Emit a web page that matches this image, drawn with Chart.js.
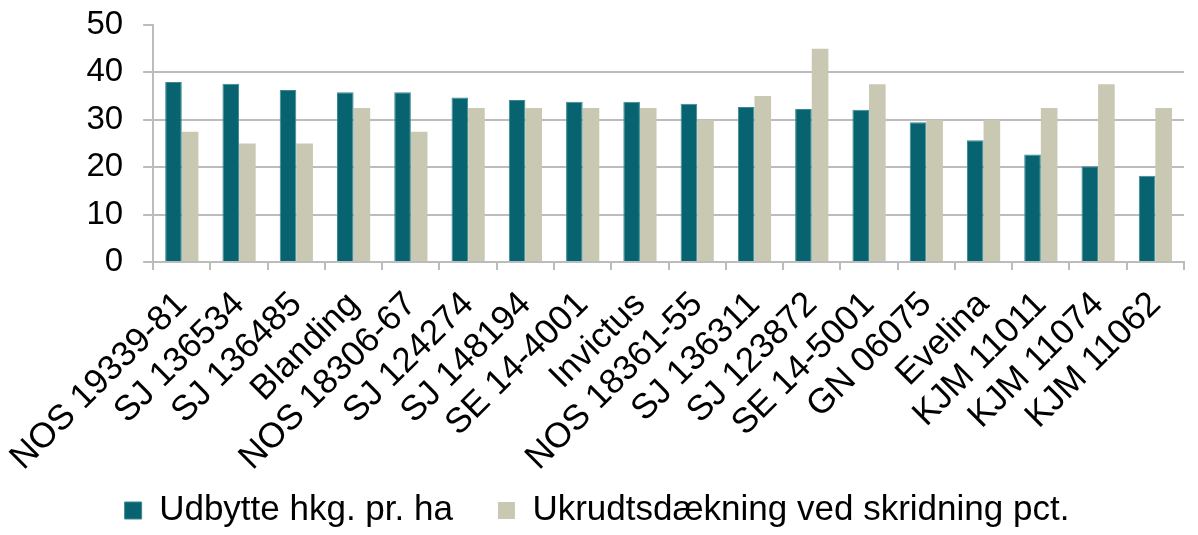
<!DOCTYPE html>
<html>
<head>
<meta charset="utf-8">
<script src="https://cdn.jsdelivr.net/npm/chart.js@4.4.1/dist/chart.umd.min.js"></script>
<style>
  html, body { margin: 0; padding: 0; background: #fff; }
  #wrap { width: 1198px; height: 535px; }
</style>
</head>
<body>
<div id="wrap"><canvas id="myChart" width="1198" height="535"></canvas></div>
<script>
// sorter
const categories = ['NOS 19339-81', 'SJ 136534', 'SJ 136485', 'Blanding', 'NOS 18306-67', 'SJ 124274',
  'SJ 148194', 'SE 14-4001', 'Invictus', 'NOS 18361-55', 'SJ 136311', 'SJ 123872', 'SE 14-5001',
  'GN 06075', 'Evelina', 'KJM 11011', 'KJM 11074', 'KJM 11062'];

// udbytte hkg. pr. ha
const yieldValues = [38.0, 37.6, 36.3, 35.8, 35.8, 34.7, 34.2, 33.8, 33.8, 33.4, 32.7, 32.3, 32.1,
  29.5, 25.7, 22.7, 20.2, 18.2];

// ukrudtsdækning ved skridning pct.
const weedValues = [27.5, 25, 25, 32.5, 27.5, 32.5, 32.5, 32.5, 32.5, 30, 35, 45, 37.5,
  30, 30, 32.5, 37.5, 32.5];

const yTicks = [0, 10, 20, 30, 40, 50];

const fontFamily = '"Liberation Sans", Arial, sans-serif';
const gridGray = '#bcbcbc';

new Chart(document.getElementById('myChart'), {
  type: 'bar',
  data: {
    labels: categories,
    datasets: [{
      label: 'Udbytte hkg. pr. ha',
      data: yieldValues,
      backgroundColor: '#06636f',
      borderColor: '#3b8a93',
      borderWidth: 1,
      categoryPercentage: 0.58,
      barPercentage: 1.0
    }, {
      label: 'Ukrudtsdækning ved skridning pct.',
      data: weedValues,
      backgroundColor: '#c9c8b3',
      borderWidth: 0,
      categoryPercentage: 0.58,
      barPercentage: 1.0
    }]
  },
  options: {
    responsive: false,
    animation: false,
    layout: { padding: { left: 10, right: 14, top: 0, bottom: -3 } },
    plugins: {
      tooltip: { enabled: false },
      legend: {
        position: 'bottom',
        labels: {
          color: '#000',
          font: { family: fontFamily, size: 35 },
          boxWidth: 17,
          boxHeight: 17,
          padding: 45
        }
      }
    },
    scales: {
      x: {
        // rotated labels are measured with full line height, so fix the band height
        // and let them run into the legend's top padding instead of being clipped
        afterFit: (scale) => {
          scale.height = 186;
          scale._computeLabelArea = () => undefined;
        },
        grid: {
          drawOnChartArea: false,
          drawTicks: true,
          tickLength: 8,
          color: gridGray,
          lineWidth: 2
        },
        border: { color: gridGray, width: 2 },
        ticks: {
          color: '#000',
          font: { family: fontFamily, size: 35 },
          maxRotation: 45,
          minRotation: 45,
          autoSkip: false,
          padding: 14
        }
      },
      y: {
        min: 0,
        max: 50,
        afterBuildTicks: (axis) => { axis.ticks = yTicks.map(v => ({ value: v })); },
        afterFit: (scale) => { scale.paddingTop = 25; },
        grid: {
          color: (ctx) => (ctx.tick && ctx.tick.value === 50 ? 'rgba(0,0,0,0)' : gridGray),
          tickColor: gridGray,
          lineWidth: 2,
          tickLength: 10
        },
        border: { color: gridGray, width: 2 },
        ticks: {
          color: '#000',
          font: { family: fontFamily, size: 33 },
          autoSkip: false,
          padding: 20
        }
      }
    }
  }
});
</script>
</body>
</html>
